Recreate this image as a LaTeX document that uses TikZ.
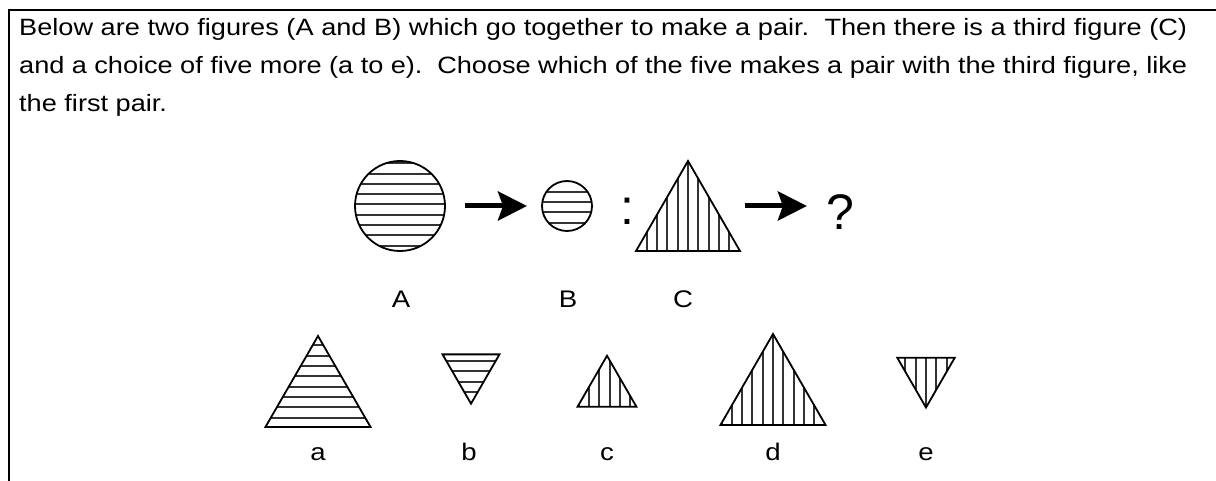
\documentclass[tikz,border=0pt]{standalone}
\usepackage{fontspec}
\setmainfont[FakeStretch=1.15]{Liberation Sans}
\newfontfamily\plainsans{Liberation Sans}
\usetikzlibrary{arrows.meta,shapes.geometric}
\tikzset{
  fig/.style={draw=black, line width=1.8pt, inner sep=0pt, outer sep=0pt},
  hatchline/.style={line width=2pt, draw=black!80},
  hhatch/.style={path picture={\foreach \i in {-12,...,12}{\draw[hatchline] ([yshift=\i*10.3pt+#1]path picture bounding box.center) ++(-80pt,0) -- ++(160pt,0);}}},
  vhatch/.style={path picture={\foreach \i in {-12,...,12}{\draw[hatchline] ([xshift=\i*10.3pt+#1]path picture bounding box.center) ++(0,-80pt) -- ++(0,160pt);}}},
  tri/.style={fig, regular polygon, regular polygon sides=3, minimum size=#1},
  itri/.style={fig, regular polygon, regular polygon sides=3, shape border rotate=180, minimum size=#1},
  bigarrow/.style={line width=5pt, -{Stealth[length=29pt,width=29pt,inset=5pt]}},
  body/.style={anchor=base west, inner sep=0pt, font=\fontsize{23.6}{28}\selectfont},
  lab/.style={anchor=base, inner sep=0pt, font=\fontsize{24}{28}\selectfont},
  big/.style={anchor=base, inner sep=0pt, font=\plainsans\fontsize{50}{60}\selectfont},
  frame/.style={line width=1.5pt}
}
\begin{document}
\begin{tikzpicture}[x=1pt,y=-1pt]
\useasboundingbox (0,0) rectangle (1216,481);
\draw[frame] (1216,10) -- (9,10) -- (9,481);
\node[body] (t1) at (19,36) {\makebox[1168pt][s]{Below are two figures (A and B) which go together to make a pair.\ \ Then there is a third figure (C)}};
\node[body] (t2) at (19,74) {\makebox[1168pt][s]{and a choice of five more (a to e).\ \ Choose which of the five makes a pair with the third figure, like}};
\node[body] (t3) at (19,112) {the first pair.};
% top row
\node[fig, circle, minimum size=90pt, hhatch=1.5pt] (figA) at (400,206) {};
\node[fig, circle, minimum size=50pt, hhatch=4pt] (figB) at (567,206) {};
\node[big] (colon) at (627,225) {:};
\node[tri=120.1pt, vhatch=0pt] (figC) at (688,221) {};
\node[big] (q) at (840,230) {?};
\draw[bigarrow, shorten <=20pt, shorten >=15pt] (figA.east) -- (figB.west);
\draw[bigarrow, shorten <=22pt, shorten >=19pt] (figC.east |- figB) -- (q.west |- figB);
\node[lab] (lA) at (401,308) {A};
\node[lab] (lB) at (568,308) {B};
\node[lab] (lC) at (683,308) {C};
% answers
\node[tri=121.2pt, hhatch=5.15pt] (fa) at (318,396.6) {};
\node[itri=65.8pt, hhatch=-2.7pt] (fb) at (471,370.8) {};
\node[tri=68.1pt, vhatch=2.5pt] (fc) at (607,389.8) {};
\node[tri=121.2pt, vhatch=0pt] (fd) at (773,394.6) {};
\node[itri=66.4pt, vhatch=0pt] (fe) at (926,374.3) {};
\node[lab] (la) at (318,460) {a};
\node[lab] (lb) at (469,460) {b};
\node[lab] (lc) at (607,460) {c};
\node[lab] (ld) at (773,460) {d};
\node[lab] (le) at (926,460) {e};
\end{tikzpicture}
\end{document}
